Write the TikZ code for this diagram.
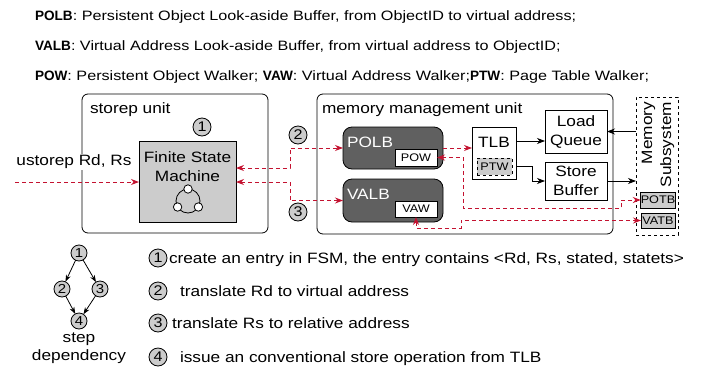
\documentclass[tikz,border=0pt]{standalone}
\usepackage{fontspec}
\setmainfont{Liberation Sans}
\newfontfamily\hreg[FakeStretch=1.19]{Liberation Sans}
\newfontfamily\hb{Liberation Sans}
\newfontfamily\dfont[FakeStretch=1.15]{Liberation Sans}
\usetikzlibrary{arrows.meta,calc}
\definecolor{myred}{RGB}{196,18,48}
\definecolor{darkg}{RGB}{96,96,96}
\definecolor{lightg}{RGB}{204,204,204}
\begin{document}
\begin{tikzpicture}[x=1pt,y=-1pt,
  every node/.style={inner sep=0pt,outer sep=0pt},
  hdr/.style={anchor=base west,font=\hreg\fontsize{13.6}{15}\selectfont},
  txt/.style={font=\dfont\fontsize{15}{19}\selectfont,align=center},
  stxt/.style={font=\dfont\fontsize{11}{13}\selectfont},
  unitbox/.style={draw,line width=0.8pt,rounded corners=6pt},
  wbox/.style={draw,line width=0.8pt,fill=white},
  gbox/.style={draw,line width=0.8pt,fill=lightg},
  dbox/.style={draw,line width=0.8pt,fill=darkg,rounded corners=9pt},
  num/.style={circle,draw,line width=0.8pt,fill=lightg,minimum size=18pt,font=\dfont\fontsize{14}{14}\selectfont},
  snum/.style={circle,draw,line width=0.8pt,fill=lightg,minimum size=16pt,font=\dfont\fontsize{13}{13}\selectfont},
  redarr/.style={draw=myred,line width=1pt,dash pattern=on 4pt off 3pt,-{Stealth[length=8pt,width=6pt]}},
  redboth/.style={draw=myred,line width=1pt,dash pattern=on 4pt off 3pt,{Stealth[length=8pt,width=6pt]}-{Stealth[length=8pt,width=6pt]}},
  blackarr/.style={draw,line width=0.8pt,-{Stealth[length=8pt,width=6pt,inset=2.5pt]}},
  deparr/.style={draw,line width=0.8pt,-{Stealth[length=7pt,width=5pt]}}
]
\useasboundingbox (0,0) rectangle (717,378);

% header
\node[hdr] (h1) at (35,20) {{\hb\bfseries POLB}: Persistent Object Look-aside Buffer, from ObjectID to virtual address;};
\node[hdr] (h2) at (35,50.5) {{\hb\bfseries VALB}: Virtual Address Look-aside Buffer, from virtual address to ObjectID;};
\node[hdr] (h3) at (35,80.5) {{\hb\bfseries POW}: Persistent Object Walker; {\hb\bfseries VAW}: Virtual Address Walker;{\hb\bfseries PTW}: Page Table Walker;};

% units
\node[unitbox,minimum width=186pt,minimum height=139pt] (storep) at (175,163.5) {};
\node[txt,anchor=west] (storeplbl) at (90,110) {storep unit};
\node[unitbox,minimum width=296pt,minimum height=140pt] (mmu) at (465,164) {};
\node[txt,anchor=west] (mmulbl) at (322,110) {memory management unit};

% FSM
\node[gbox,minimum width=97pt,minimum height=81pt] (fsm) at (187.5,181.5) {};
\node[txt] (fsmlbl) at (187.5,166.5) {Finite State\\Machine};
\draw[line width=0.8pt] (188,201) circle[radius=12pt];
\foreach \p in {(188,189),(177.6,207),(198.4,207)}
  \draw[line width=0.8pt,fill=white] \p circle[radius=4.2pt];

\node[num] (n1) at (202,127) {1};
\node[num] (n2) at (298,135) {2};
\node[num] (n3) at (298,212) {3};

% input
\node[txt,fill=white,inner sep=1pt] (uin) at (74,162) {ustorep Rd, Rs};
\coordinate (uinS) at (15,182);
\draw[redarr] (uinS) -- (uinS -| fsm.west);

% POLB / VALB
\node[dbox,minimum width=100pt,minimum height=42pt] (polb) at (393,148) {};
\node[txt,text=white,anchor=west] (polblbl) at (347,142) {POLB};
\node[wbox,minimum width=42pt,minimum height=17pt,stxt] (pow) at (416,157.5) {POW};
\node[dbox,minimum width=100pt,minimum height=43pt] (valb) at (393,200.5) {};
\node[txt,text=white,anchor=west] (valblbl) at (347,194) {VALB};
\node[wbox,minimum width=42pt,minimum height=16pt,stxt] (vaw) at (416,209) {VAW};

% TLB
\node[wbox,minimum width=44pt,minimum height=52pt] (tlb) at (494,153) {};
\node[txt] (tlblbl) at (494,142) {TLB};
\node[gbox,dashed,minimum width=35pt,minimum height=17pt,stxt] (ptw) at (494.5,166.5) {PTW};

% Load queue / store buffer
\node[wbox,minimum width=62pt,minimum height=43pt,txt] (lq) at (576,131.5) {Load\\Queue};
\node[wbox,minimum width=62pt,minimum height=38pt,txt] (sb) at (576,181) {Store\\Buffer};

% Memory subsystem
\node[draw,dashed,line width=0.8pt,minimum width=42pt,minimum height=138pt] (ms) at (657,166) {};
\node[txt,align=right,rotate=90,anchor=east] (mslbl) at (658,102) {Memory\\Subsystem};
\node[gbox,minimum width=34pt,minimum height=16pt,stxt] (potb) at (658,200) {POTB};
\node[gbox,minimum width=34pt,minimum height=15pt,stxt] (vatb) at (658,220.5) {VATB};

% connectors
\draw[redboth] ($(fsm.east)+(0,-13.5)$) -| ($(polb.west)+(-53,0)$) -- (polb.west);
\draw[redboth] ($(fsm.east)+(0,0.5)$) -| ($(valb.west)+(-53,0)$) -- (valb.west);
\draw[redarr] (polb.east) -- (polb.east -| tlb.west);
\coordinate (t1) at ($(tlb.east)+(0,-12)$);
\draw[blackarr] (t1) -- (t1 -| lq.west);
\draw[blackarr] ($(tlb.east)+(0,13)$) -- ++(16,0) |- (sb.west);
\draw[blackarr] (ms.west |- lq.east) -- (lq.east);
\draw[blackarr] (sb.east) -- (sb.east -| ms.west);
\draw[redboth] (pow.east) -| (463,208) -| ($(potb.west)+(-19,0)$) -- (potb.west);
\draw[redboth] (vaw.south) |- (461,228) |- (vatb.west);

% step dependency
\node[snum] (d1) at (79,253) {1};
\node[snum] (d2) at (62,289) {2};
\node[snum] (d3) at (100,289) {3};
\node[snum] (d4) at (79,321) {4};
\draw[deparr] (d1) -- (d2);
\draw[deparr] (d1) -- (d3);
\draw[deparr] (d2) -- (d4);
\draw[deparr] (d3) -- (d4);
\node[txt,font=\dfont\fontsize{15}{18}\selectfont] (deplbl) at (79,348) {step\\dependency};

% legend
\node[num] (l1) at (158,258) {1};
\node[txt,anchor=base west] (l1t) at (169,263.5) {create an entry in FSM, the entry contains <Rd, Rs, stated, statets>};
\node[num] (l2) at (158,291) {2};
\node[txt,anchor=base west] (l2t) at (180,296.5) {translate Rd to virtual address};
\node[num] (l3) at (158,323) {3};
\node[txt,anchor=base west] (l3t) at (172,328.5) {translate Rs to relative address};
\node[num] (l4) at (158,357) {4};
\node[txt,anchor=base west] (l4t) at (180,362.5) {issue an conventional store operation from TLB};
\end{tikzpicture}
\end{document}
